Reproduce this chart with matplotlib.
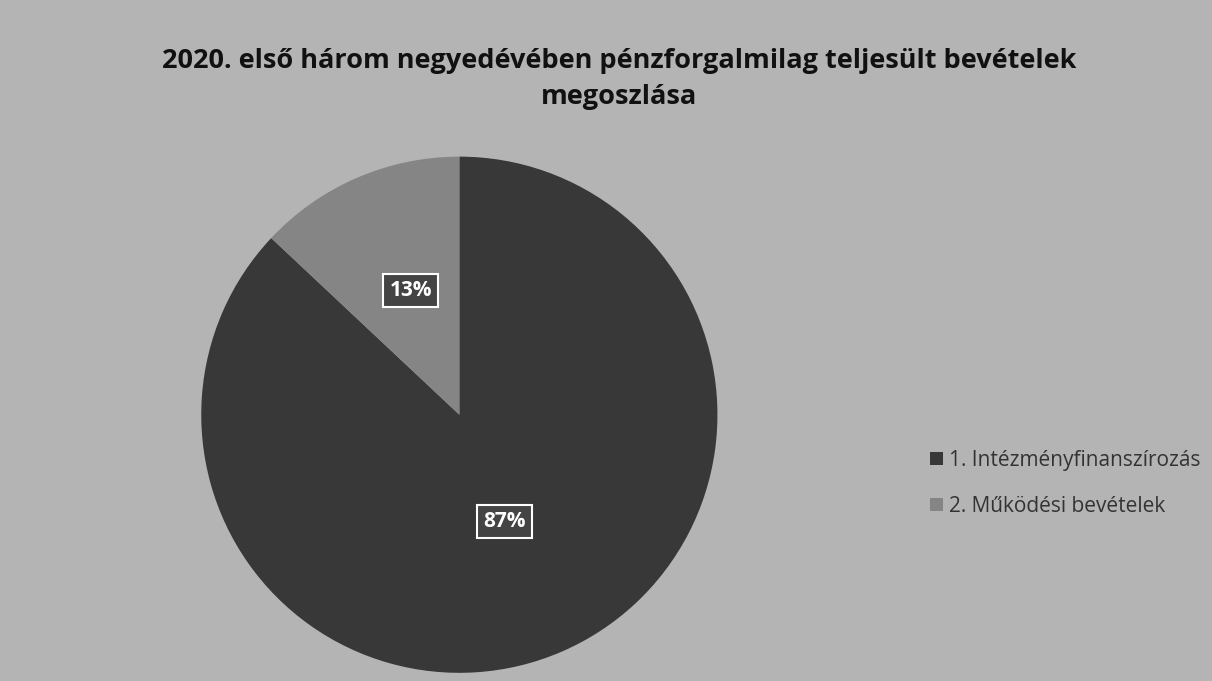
import matplotlib.pyplot as plt

labels = ["1. Intézményfinanszírozás", "2. Működési bevételek"]
shares = [87, 13]
colors = ["#383838", "#858585"]

title = "2020. első három negyedévében pénzforgalmilag teljesült bevételek\nmegoszlása"

fig = plt.figure(figsize=(12.12, 6.81), dpi=100)
fig.patch.set_facecolor("#b4b4b4")

fig.text(0.511, 0.93, title, ha="center", va="top", fontsize=19.5,
         fontweight="bold", family="Open Sans", color="#111111",
         linespacing=1.5)

ax = fig.add_axes([0.166, 0.012, 0.426, 0.758])
ax.set_facecolor("none")
wedges, texts, pcts = ax.pie(shares, colors=colors, startangle=90,
                             counterclock=False, autopct="%d%%",
                             pctdistance=0.5,
                             wedgeprops=dict(linewidth=0))
for t in pcts:
    t.set_color("white")
    t.set_fontweight("bold")
    t.set_fontsize(15)
    t.set_family("Open Sans")
    t.set_bbox(dict(facecolor="#444444", edgecolor="white", linewidth=1.5,
                    boxstyle="square,pad=0.3"))
# big slice label sits a bit closer to the centre
x0, y0 = pcts[0].get_position()
pcts[0].set_position((x0 * 0.88, y0 * 0.9))
x1, y1 = pcts[1].get_position()
pcts[1].set_position((x1 * 0.95, y1 * 1.05))
ax.set_xlim(-1, 1)
ax.set_ylim(-1, 1)
ax.set_aspect("equal")

leg = fig.legend(wedges, labels, loc="center left",
                 bbox_to_anchor=(0.752, 0.29), frameon=False,
                 fontsize=15, handlelength=0.6, handleheight=0.6,
                 handletextpad=0.3, labelspacing=1.2)
for t in leg.get_texts():
    t.set_color("#333333")
    t.set_family("Open Sans")

fig.savefig("out.png", dpi=100, facecolor=fig.get_facecolor())
